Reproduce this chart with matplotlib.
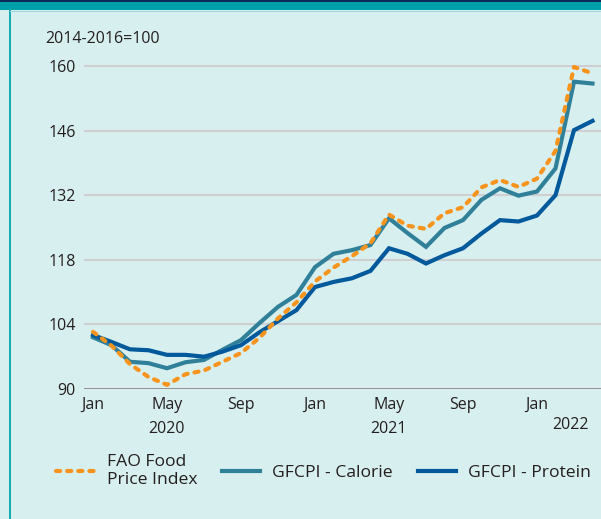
import matplotlib
matplotlib.use("Agg")
import matplotlib.pyplot as plt
from matplotlib.lines import Line2D
from matplotlib.patches import Rectangle

plt.rcParams['font.family'] = ['Open Sans', 'DejaVu Sans']

# Monthly index values, Jan 2020 - Apr 2022 (2014-2016=100)
months = list(range(28))
fao_food = [102.4, 99.4, 95.4, 92.6, 90.9, 93.2, 94.0, 95.9, 97.8, 101.1,
            105.3, 108.8, 113.3, 116.3, 118.8, 121.6, 127.8, 125.4, 124.7,
            128.1, 129.4, 133.7, 135.3, 133.8, 135.6, 141.6, 159.8, 158.4]
gfcpi_calorie = [101.2, 99.5, 95.9, 95.6, 94.5, 95.8, 96.3, 98.5, 100.6,
                 104.3, 107.8, 110.4, 116.4, 119.3, 120.1, 121.2, 127.0,
                 123.8, 120.8, 124.9, 126.6, 131.0, 133.5, 131.9, 132.8,
                 137.8, 156.6, 156.2]
gfcpi_protein = [101.7, 100.2, 98.6, 98.4, 97.4, 97.4, 97.0, 98.1, 99.5,
                 102.3, 104.7, 107.1, 112.1, 113.2, 114.0, 115.6, 120.5,
                 119.3, 117.2, 119.0, 120.5, 123.7, 126.6, 126.3, 127.6,
                 132.0, 146.1, 148.1]

y_ticks = [90, 104, 118, 132, 146, 160]
x_tick_pos = [0, 4, 8, 12, 16, 20, 24]
x_tick_labels = ["Jan", "May", "Sep", "Jan", "May", "Sep", "Jan"]
year_labels = [(4, "2020"), (16, "2021"), (25.8, "2022")]

BG = "#d8eff0"
TEXT = "#231f20"
C_FAO = "#f7941d"
C_CAL = "#31809a"
C_PRO = "#00599b"

W, H = 601, 519
fig = plt.figure(figsize=(W / 100, H / 100), dpi=100)
fig.patch.set_facecolor(BG)

# header band and left rule
fig.add_artist(Rectangle((0, 1 - 10 / H), 1, 10 / H, transform=fig.transFigure,
                         facecolor="#00a0a9", edgecolor="none"))
fig.add_artist(Rectangle((0, 1 - 1.5 / H), 1, 1.5 / H, transform=fig.transFigure,
                         facecolor="#0b2a5a", edgecolor="none"))
fig.add_artist(Line2D([10.5 / W, 10.5 / W], [0, 1 - 10 / H], transform=fig.transFigure,
                      color="#00a6ad", lw=1.3))
fig.add_artist(Line2D([10.5 / W, 1], [1 - 10.5 / H, 1 - 10.5 / H], transform=fig.transFigure,
                      color="#9fd6da", lw=0.8))

ax = fig.add_axes([84 / W, (H - 389) / H, (W - 84) / W, (389 - 50) / H])
ax.set_facecolor("none")
ax.set_xlim(-0.486, 27.46)
ax.set_ylim(90, 163.47)
for s in ax.spines.values():
    s.set_visible(False)

ax.set_yticks(y_ticks)
ax.set_yticklabels([str(v) for v in y_ticks])
for v in y_ticks[1:]:
    ax.axhline(v, color="#cfcfd1", lw=1.5, zorder=1)
ax.axhline(90, color="#959596", lw=2.2, zorder=1)

ax.set_xticks(x_tick_pos)
ax.set_xticklabels(x_tick_labels)
ax.tick_params(axis="both", length=0, labelsize=11.5, labelcolor=TEXT)
ax.tick_params(axis="y", pad=6)
ax.tick_params(axis="x", pad=6)

for x, lab in year_labels:
    yy = -0.118 if lab != "2022" else -0.105
    ax.text(x, yy, lab, transform=ax.get_xaxis_transform(), ha="center",
            va="center", fontsize=11.5, color=TEXT)

ax.text(45 / W, 1 - 39 / H, "2014-2016=100", transform=fig.transFigure,
        ha="left", va="center", fontsize=11.5, color=TEXT)

lw = 3.0
l_cal, = ax.plot(months, gfcpi_calorie, color=C_CAL, lw=lw, zorder=3,
                 solid_joinstyle="miter", clip_on=False)
l_pro, = ax.plot(months, gfcpi_protein, color=C_PRO, lw=lw, zorder=4,
                 solid_joinstyle="miter", clip_on=False)
l_fao, = ax.plot(months, fao_food, color=C_FAO, lw=lw, zorder=5,
                 dashes=(1.0, 1.67), dash_capstyle="round", clip_on=False)

leg = fig.legend([l_fao, l_cal, l_pro],
                 ["FAO Food\nPrice Index", "GFCPI - Calorie", "GFCPI - Protein"],
                 loc="center left", bbox_to_anchor=(56 / W, (H - 471) / H),
                 ncol=3, frameon=False, fontsize=12.6, handlelength=2.2,
                 handletextpad=0.7, columnspacing=1.4, borderpad=0,
                 borderaxespad=0, labelspacing=0)
for t in leg.get_texts():
    t.set_color(TEXT)
    t.set_linespacing(1.1)

fig.savefig("out.png", dpi=100, facecolor=BG)
